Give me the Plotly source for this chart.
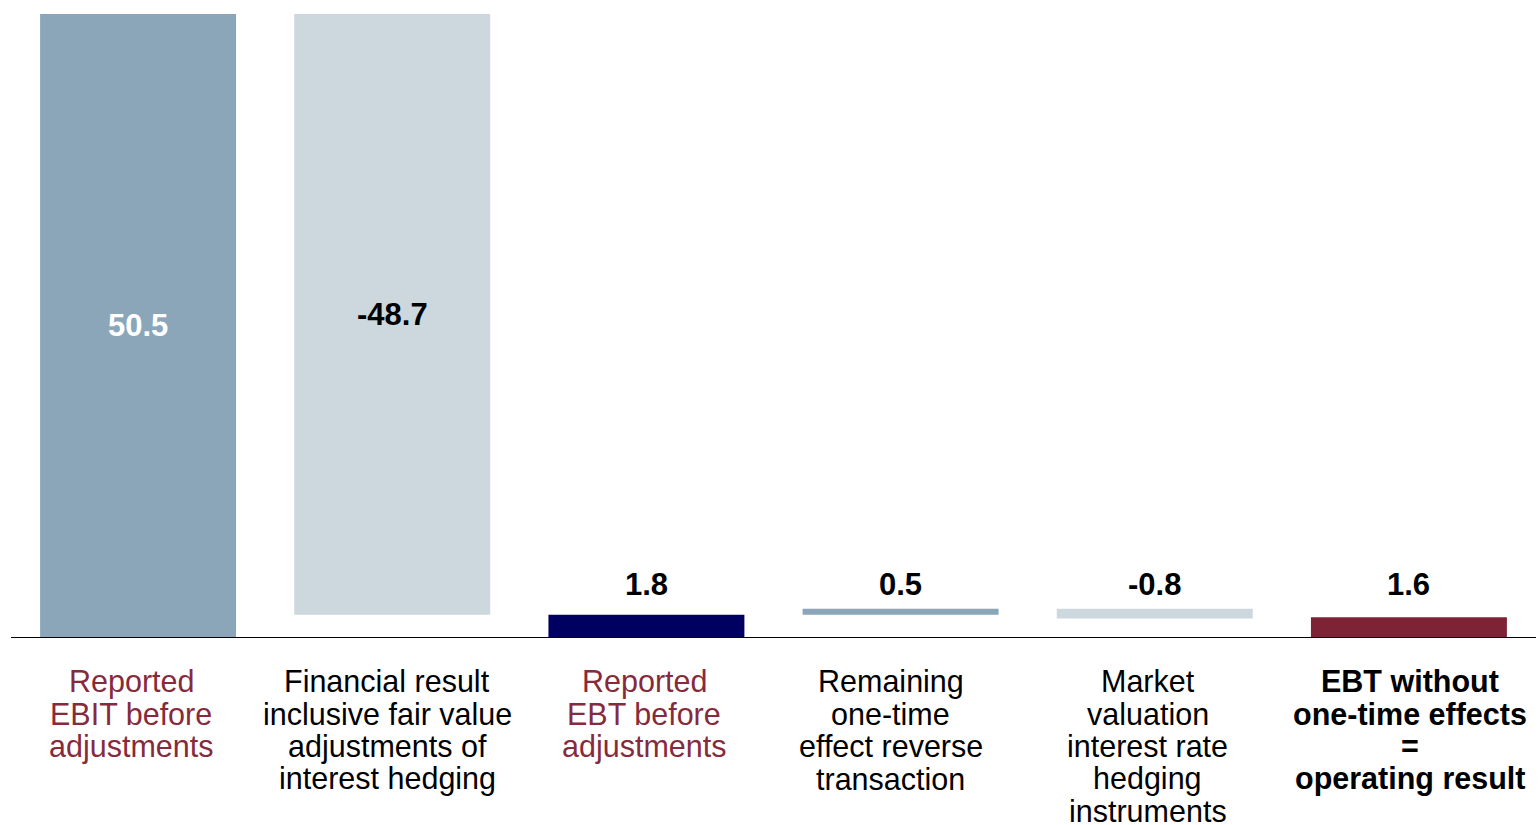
import plotly.graph_objects as go

# Bridge from reported EBIT to the operating result (EUR m)
categories = ["EBIT", "FinResult", "EBT", "OneTime", "MarketVal", "Operating"]
label_lines = [
    ["Reported", "EBIT before", "adjustments"],
    ["Financial result", "inclusive fair value", "adjustments of", "interest hedging"],
    ["Reported", "EBT before", "adjustments"],
    ["Remaining", "one-time", "effect reverse", "transaction"],
    ["Market", "valuation", "interest rate", "hedging", "instruments"],
    ["EBT without", "one-time effects", "=", "operating result"],
]
values = [50.5, -48.7, 1.8, 0.5, -0.8, 1.6]
measures = ["total", "relative", "total", "relative", "relative", "total"]

bar_colors = ["#8ba6b9", "#cdd7de", "#000060", "#8ba6b9", "#cdd7de", "#7d2335"]
label_colors = ["#862a3c", "#000000", "#862a3c", "#000000", "#000000", "#000000"]
label_bold = [False, False, False, False, False, True]
value_inside = [True, True, False, False, False, False]
value_colors = ["#ffffff", "#000000", "#000000", "#000000", "#000000", "#000000"]

# floating bar geometry from the running total
bases, heights = [], []
running = 0.0
for v, m in zip(values, measures):
    if m == "total":
        bases.append(0.0)
        heights.append(v)
        running = v
    else:
        lo = running if v >= 0 else running + v
        bases.append(lo)
        heights.append(abs(v))
        running += v

fig = go.Figure(
    go.Bar(
        x=categories,
        y=heights,
        base=bases,
        marker=dict(color=bar_colors, line=dict(width=0)),
        hoverinfo="skip",
    )
)

annotations = []
outside_tops = [b + h for b, h, ins in zip(bases, heights, value_inside) if not ins]
label_level = max(outside_tops)
value_font = dict(family="Liberation Sans, Arial", size=31, weight="bold")
for cat, v, b, h, ins, col in zip(categories, values, bases, heights, value_inside, value_colors):
    txt = f"{v:.1f}"
    if ins:
        annotations.append(dict(
            x=cat, y=b + h / 2, xref="x", yref="y", text=txt, showarrow=False,
            xanchor="center", yanchor="middle",
            font=dict(value_font, color=col),
        ))
    else:
        annotations.append(dict(
            x=cat, y=label_level, xref="x", yref="y", text=txt, showarrow=False,
            xanchor="center", yanchor="middle", yshift=24,
            font=dict(value_font, color=col),
        ))

# category captions, one annotation per line for a tight line pitch
line_gap = 32.5
caption_shift = [-7, -5, -2, -10, -7, 1]
for cat, lines, col, bold, dx in zip(categories, label_lines, label_colors, label_bold, caption_shift):
    for i, ln in enumerate(lines):
        annotations.append(dict(
            x=cat, y=0, xref="x", yref="paper", text=ln, showarrow=False,
            xanchor="center", yanchor="middle", yshift=-(44 + i * line_gap), xshift=dx,
            font=dict(family="Liberation Sans, Arial", size=30.5, color=col,
                      weight="bold" if bold else "normal"),
        ))

fig.update_layout(
    width=1538,
    height=825,
    margin=dict(l=11, r=2, t=14, b=188),
    paper_bgcolor="white",
    plot_bgcolor="white",
    bargap=0.229,
    showlegend=False,
    annotations=annotations,
    xaxis=dict(
        showticklabels=False, showgrid=False, zeroline=False,
        showline=True, linecolor="#000000", linewidth=1, ticks="",
    ),
    yaxis=dict(
        range=[0, 50.5], visible=False, showgrid=False, zeroline=False,
    ),
)

fig.write_html("out.html")
